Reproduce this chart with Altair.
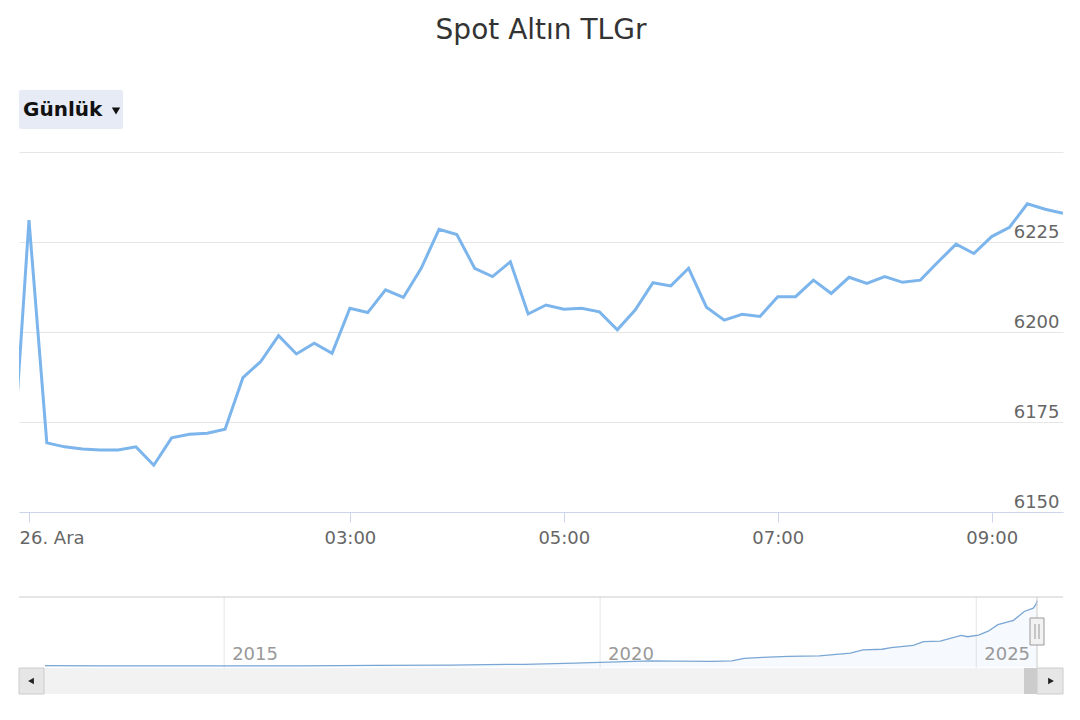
import altair as alt
import pandas as pd

TITLE = "Spot Altın TLGr"
BUTTON = "Günlük"

# Main series: 10-minute quotes (the first one, before midnight, belongs to 25 Dec)
times = ["23:50", "00:00", "00:10", "00:20", "00:30", "00:40", "00:50",
         "01:00", "01:10", "01:20", "01:30", "01:40", "01:50",
         "02:00", "02:10", "02:20", "02:30", "02:40", "02:50",
         "03:00", "03:10", "03:20", "03:30", "03:40", "03:50",
         "04:00", "04:10", "04:20", "04:30", "04:40", "04:50",
         "05:00", "05:10", "05:20", "05:30", "05:40", "05:50",
         "06:00", "06:10", "06:20", "06:30", "06:40", "06:50",
         "07:00", "07:10", "07:20", "07:30", "07:40", "07:50",
         "08:00", "08:10", "08:20", "08:30", "08:40", "08:50",
         "09:00", "09:10", "09:20", "09:30", "09:40"]
prices = [6156.7, 6231.1, 6169.2, 6168.1, 6167.5, 6167.2, 6167.2,
          6168.1, 6163.0, 6170.6, 6171.6, 6171.9, 6173.0,
          6187.3, 6191.8, 6199.0, 6193.9, 6196.9, 6194.1,
          6206.6, 6205.4, 6211.7, 6209.6, 6217.7, 6228.5,
          6227.1, 6217.7, 6215.4, 6219.5, 6205.0, 6207.5,
          6206.3, 6206.6, 6205.6, 6200.6, 6206.1, 6213.7,
          6212.8, 6217.7, 6206.9, 6203.3, 6204.9, 6204.3,
          6209.8, 6209.8, 6214.4, 6210.7, 6215.2, 6213.5,
          6215.4, 6213.8, 6214.4, 6219.5, 6224.4, 6221.8,
          6226.5, 6229.1, 6235.6, 6234.1, 6233.0]
y_ticks = [6150, 6175, 6200, 6225, 6250]
x_tick_hours = [0, 3, 5, 7, 9]
first_label = "26. Ara"

# Navigator (long history)
nav_dates = ["2012-08-14", "2013-06-01", "2014-03-01", "2015-01-01", "2016-01-01",
             "2017-01-01", "2018-01-01", "2018-10-01", "2019-01-01", "2019-09-01",
             "2020-01-01", "2020-09-01", "2021-01-01", "2021-07-01", "2021-10-01",
             "2021-12-01", "2022-03-01", "2022-07-01", "2022-12-01", "2023-05-01",
             "2023-07-01", "2023-10-01", "2023-11-15", "2024-03-01", "2024-04-20",
             "2024-07-10", "2024-10-20", "2024-11-20", "2025-01-12", "2025-02-28",
             "2025-04-16", "2025-07-01", "2025-08-22", "2025-10-05", "2025-10-19",
             "2025-10-23"]
nav_values = [116, 100, 105, 95, 105, 140, 160, 230, 240, 350,
              410, 555, 530, 500, 555, 766, 854, 942, 994, 1231,
              1521, 1583, 1732, 1934, 2259, 2311, 2812, 2698, 2838, 3189,
              3778, 4155, 4945, 5244, 5621, 5900]
nav_years = [2015, 2020, 2025]

df_main = pd.DataFrame({
    "t": [("2025-12-25T" if t.startswith("23") else "2025-12-26T") + t + ":00" for t in times],
    "v": prices,
})
df_nav = pd.DataFrame({"d": [d + "T00:00:00" for d in nav_dates], "v": nav_values})
df_years = pd.DataFrame({"d": [f"{y}-01-01T00:00:00" for y in nav_years],
                         "label": [str(y) for y in nav_years]})
one = pd.DataFrame({"a": [0]})

W = 1044
H = 360
FONT = "DejaVu Sans"

x_dom = [alt.DateTime(year=2025, month=12, date=25, hours=23, minutes=54, seconds=24),
         alt.DateTime(year=2025, month=12, date=26, hours=9, minutes=40)]
x_vals = [alt.DateTime(year=2025, month=12, date=26, hours=h) for h in x_tick_hours]

line = alt.Chart(df_main).mark_line(color="#7cb5ec", strokeWidth=3, clip=True).encode(
    x=alt.X("t:T", scale=alt.Scale(domain=x_dom),
            axis=alt.Axis(values=x_vals, grid=False, title=None,
                          labelExpr=f"hours(datum.value) == 0 ? '{first_label}' : timeFormat(datum.value, '%H:%M')",
                          domainColor="#ccd6eb", tickColor="#ccd6eb", tickSize=10,
                          labelFontSize=18, labelColor="#666666", labelFont=FONT,
                          labelPadding=7, labelFlush=12, labelFlushOffset=10)),
    y=alt.Y("v:Q", scale=alt.Scale(domain=[6150, 6250], nice=False, zero=False),
            axis=alt.Axis(orient="right", values=y_ticks, title=None, domain=False, ticks=False,
                          tickSize=0, gridColor="#e6e6e6", labelAlign="right", labelPadding=-4,
                          labelBaseline="alphabetic", labelOffset=-5, labelFlush=False,
                          labelOverlap=False, labelFontSize=18, labelColor="#666666", labelFont=FONT,
                          format="d",
                          labelExpr="datum.value >= 6250 ? '' : datum.label")),
)

title = alt.Chart(pd.DataFrame({"label": [TITLE]})).mark_text(
    fontSize=28, color="#333333", font=FONT, align="center", baseline="middle"
).encode(x=alt.value(W / 2), y=alt.value(-121), text="label:N")

btn_bg = alt.Chart(one).mark_rect(color="#e6ebf5", cornerRadius=2).encode(
    x=alt.value(0), x2=alt.value(104), y=alt.value(-62), y2=alt.value(-23))
btn_txt = alt.Chart(pd.DataFrame({"label": [BUTTON]})).mark_text(
    fontSize=20, fontWeight="bold", color="#111111", font=FONT, align="left", baseline="middle"
).encode(x=alt.value(4), y=alt.value(-42), text="label:N")
btn_arrow = alt.Chart(one).mark_point(shape="triangle-down", filled=True, color="#111111",
                                      size=70, opacity=1).encode(
    x=alt.value(97), y=alt.value(-41))

main = alt.layer(line, title, btn_bg, btn_txt, btn_arrow).properties(width=W, height=H)

# Navigator
NH = 71
SB = 26
nav_x = alt.Scale(domain=[alt.DateTime(year=2012, month=8, date=14),
                          alt.DateTime(year=2025, month=10, date=23)], range=[26, W - 26])
nav_y = alt.Scale(domain=[90, 6235], range=[NH - 2, 0], nice=False, zero=False)

year_grid = alt.Chart(df_years).mark_rule(color="#e6e6e6", strokeWidth=1).encode(
    x=alt.X("d:T", scale=nav_x, axis=None), y=alt.value(0), y2=alt.value(NH))
year_lbl = alt.Chart(df_years).mark_text(fontSize=18, color="#999999", font=FONT,
                                         align="left", baseline="alphabetic", dx=8).encode(
    x=alt.X("d:T", scale=nav_x, axis=None), y=alt.value(NH - 8), text="label:N")
nav_area = alt.Chart(df_nav).mark_area(color="#7cb5ec", opacity=0.07).encode(
    x=alt.X("d:T", scale=nav_x, axis=None),
    y=alt.Y("v:Q", scale=nav_y, axis=None), y2=alt.value(NH))
nav_line = alt.Chart(df_nav).mark_line(color="#7aa6d4", strokeWidth=1.3).encode(
    x=alt.X("d:T", scale=nav_x, axis=None),
    y=alt.Y("v:Q", scale=nav_y, axis=None))
top_line = alt.Chart(one).mark_rule(color="#cccccc").encode(
    x=alt.value(0), x2=alt.value(W), y=alt.value(0))
handle_line = alt.Chart(one).mark_rule(color="#cccccc").encode(
    x=alt.value(W - 26), y=alt.value(0), y2=alt.value(NH))
track = alt.Chart(one).mark_rect(color="#f2f2f2").encode(
    x=alt.value(0), x2=alt.value(W), y=alt.value(NH), y2=alt.value(NH + SB))
btn_l = alt.Chart(one).mark_rect(fill="#e6e6e6", stroke="#cccccc", strokeWidth=1).encode(
    x=alt.value(0), x2=alt.value(25), y=alt.value(NH), y2=alt.value(NH + SB))
btn_r = alt.Chart(one).mark_rect(fill="#e6e6e6", stroke="#cccccc", strokeWidth=1).encode(
    x=alt.value(W - 26), x2=alt.value(W), y=alt.value(NH), y2=alt.value(NH + SB))
thumb = alt.Chart(one).mark_rect(fill="#cccccc").encode(
    x=alt.value(W - 39), x2=alt.value(W - 26), y=alt.value(NH), y2=alt.value(NH + SB))
arr_l = alt.Chart(one).mark_point(shape="triangle-left", filled=True, color="#222222",
                                  size=45, opacity=1).encode(x=alt.value(12), y=alt.value(NH + 13))
arr_r = alt.Chart(one).mark_point(shape="triangle-right", filled=True, color="#222222",
                                  size=45, opacity=1).encode(x=alt.value(W - 12), y=alt.value(NH + 13))
handle = alt.Chart(one).mark_rect(fill="#f2f2f2", stroke="#999999", strokeWidth=1).encode(
    x=alt.value(W - 33), x2=alt.value(W - 19), y=alt.value(21), y2=alt.value(48))
handle_g1 = alt.Chart(one).mark_rule(color="#999999").encode(
    x=alt.value(W - 28), y=alt.value(27), y2=alt.value(42))
handle_g2 = alt.Chart(one).mark_rule(color="#999999").encode(
    x=alt.value(W - 24), y=alt.value(27), y2=alt.value(42))

nav = alt.layer(year_grid, nav_area, nav_line, year_lbl, top_line, handle_line,
                track, btn_l, btn_r, thumb, arr_l, arr_r,
                handle, handle_g1, handle_g2).properties(width=W, height=NH + SB)

chart = alt.vconcat(main, nav, spacing=49).properties(
    padding={"left": 10, "top": 9, "right": 8, "bottom": 5}
).configure(font=FONT, view=alt.ViewConfig(stroke="transparent", strokeWidth=0))

chart.save("out.html", embed_options={"renderer": "svg", "actions": False})
